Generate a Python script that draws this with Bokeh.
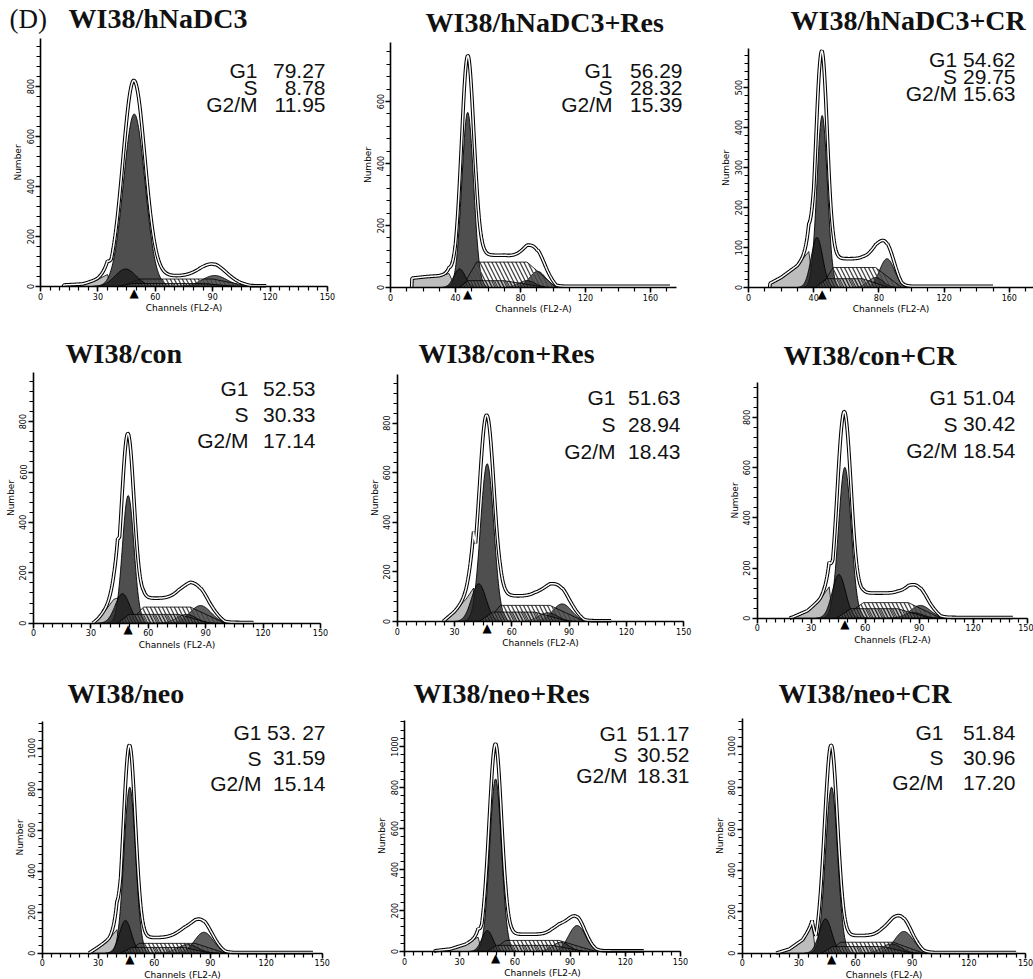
import numpy as np
from bokeh.plotting import figure
from bokeh.layouts import column, row
from bokeh.models import Range1d, SingleIntervalTicker, Label
from bokeh.embed import file_html
from bokeh.resources import INLINE

# ---------------- data ----------------
titles = ["WI38/hNaDC3", "WI38/hNaDC3+Res", "WI38/hNaDC3+CR",
          "WI38/con", "WI38/con+Res", "WI38/con+CR",
          "WI38/neo", "WI38/neo+Res", "WI38/neo+CR"]
phase_labels = ["G1", "S", "G2/M"]
g1_pct = ["79.27", "56.29", "54.62", "52.53", "51.63", "51.04", "53. 27", "51.17", "51.84"]
s_pct = ["8.78", "28.32", "29.75", "30.33", "28.94", "30.42", "31.59", "30.52", "30.96"]
g2m_pct = ["11.95", "15.39", "15.63", "17.14", "18.43", "18.54", "15.14", "18.31", "17.20"]

# model components (channel / count)
g1_mu = [49, 47.5, 45.2, 49.5, 47.1, 48.7, 46.9, 49.5, 47.3]
g1_h = [690, 565, 430, 507, 636, 601, 810, 842, 802]
g1_sd = [5.6, 3.6, 3.2, 3.0, 3.5, 3.5, 3.1, 3.2, 3.2]
env_peak = [824, 748, 590, 752, 830, 820, 1013, 1013, 1003]
ap_mu = [44.5, 42.5, 42, 46.5, 42.7, 45.4, 44.6, 45, 44.1]
ap_h = [70, 60, 125, 117, 152, 174, 160, 102, 166]
ap_sd = [5.5, 3.5, 3.5, 3.8, 3.8, 3.7, 3.2, 3.0, 3.3]
g2_mu = [91, 90.5, 85, 87.3, 86.4, 90.7, 86.6, 93.8, 85.6]
g2_h = [44, 52, 72, 70, 71, 51, 102, 127, 105]
g2_sd = [6.5, 5, 4.5, 5.5, 5, 5.5, 5, 4.6, 5]
ap2_mu = [86, 84, 78, 80, 79, 87, 78, 85, 79]
ap2_h = [10, 22, 25, 35, 35, 22, 42, 45, 45]
ap2_sd = [6, 5, 4.5, 5, 5, 5, 5.5, 4.5, 5]
s_x = [[42, 52, 90, 110], [44, 53, 84, 102], [44, 52, 78, 94], [50, 57.5, 82, 100],
       [47, 54, 80, 98], [47, 59, 84, 102], [45, 52, 82, 98], [47, 55, 84, 104], [45, 52, 80, 96]]
s_h = [30, 82, 50, 64, 65, 62, 48, 54, 53]
s2_x = [[40, 48, 84, 104], [42, 48, 70, 96], [41, 48, 70, 86], [44, 50, 76, 92],
        [43, 50, 72, 90], [44, 52, 78, 96], [42, 48, 76, 90], [45, 50, 80, 98], [42, 48, 74, 90]]
s2_h = [12, 22, 22, 35, 38, 38, 28, 30, 32]
debris_x = [[12, 12.1, 22, 30, 35, 37], [13, 13.1, 22, 30, 36, 40], [13, 13.1, 20, 30, 37, 40],
            [31, 34, 38, 42, 44, 45], [24, 30, 36, 40, 41], [18, 20, 28, 35, 40, 42],
            [25, 30, 36, 40, 42], [16, 17, 25, 33, 40, 42], [18, 25, 32, 37, 39]]
debris_y = [[0, 6, 10, 28, 48, 0], [0, 30, 35, 38, 45, 0], [0, 10, 25, 55, 90, 0],
            [0, 20, 55, 95, 100, 0], [0, 40, 90, 135, 0], [0, 5, 30, 75, 125, 0],
            [0, 30, 70, 115, 0], [0, 4, 12, 35, 70, 0], [0, 20, 65, 135, 0]]
tail_level = [3, 4, 3, 3, 3, 3, 3, 3, 3]
tail_end = [118, 172, 150, 115, 112, 142, 145, 130, 145]

# axes of each panel
x_tick_step = [30, 40, 40, 30, 30, 30, 30, 30, 30]
x_minor = [6, 4, 4, 6, 6, 6, 6, 6, 6]
x_axis_end = [150, 176, None, 150, 150, 150, 150, 150, 150]
y_tick_step = [200, 200, 100, 200, 200, 200, 200, 200, 200]
y_axis_top = [992, 790, 598, 996, 996, 940, 1130, 1127, 1133]

# ---------------- geometry (pixels of the page) ----------------
col_left = [0, 346, 692]
col_w = [346, 346, 341]
row_top = [0, 320, 652]
row_h = [320, 332, 327]
x0_abs = [40, 390, 748, 33, 396.7, 756.7, 41.7, 404, 741.7]
y0_abs = [286, 287, 287, 622.7, 621, 617.7, 952.7, 951, 952.7]
kx_all = [1.913, 1.625, 1.63, 1.913, 1.91, 1.8, 1.867, 1.84, 1.889]
ky_all = [0.25, 0.31, 0.40, 0.252, 0.248, 0.251, 0.205, 0.205, 0.207]
title_xy = [(68, 18), (425, 22), (790, 20), (65, 353), (418, 353), (783, 355),
            (67, 693), (413, 693), (778, 693)]
lab_right = [257, 612, None, 248, 615, 957, 261, 627, 943]
val_right = [325, 682, 1015, 315, 680, 1015, 325, 689, 1015]
row1_y = [70, 70, 59, 388, 397, 397, 732, 733, 732]
row_gap = [17, 17, 17, 26, 27, 26.5, 25.5, 21, 25]

TITLE_FONT = "Liberation Serif"
STAT_FONT = "Liberation Sans"
AX_FONT = "DejaVu Sans"


def gauss(xg, mu, h, sd):
    return h * np.exp(-0.5 * ((xg - mu) / sd) ** 2)


def make_panel(i):
    r, c = divmod(i, 3)
    W, H = col_w[c], row_h[r]
    kx, ky = kx_all[i], ky_all[i]
    x0 = x0_abs[i] - col_left[c]
    y0 = y0_abs[i] - row_top[r]
    x_end = x_axis_end[i] if x_axis_end[i] is not None else (W - x0) / kx
    p = figure(width=W, height=H,
               x_range=Range1d(-x0 / kx, (W - x0) / kx),
               y_range=Range1d(-(H - y0) / ky, y0 / ky),
               output_backend="svg", toolbar_location=None,
               min_border_left=0, min_border_right=0,
               min_border_top=0, min_border_bottom=0,
               background_fill_color="white", border_fill_color="white",
               outline_line_color=None)
    p.xgrid.visible = False
    p.ygrid.visible = False

    # axes drawn at channel 0 / count 0
    p.xaxis.fixed_location = 0
    p.yaxis.fixed_location = 0
    p.xaxis.ticker = SingleIntervalTicker(interval=x_tick_step[i], num_minor_ticks=x_minor[i])
    p.yaxis.ticker = SingleIntervalTicker(interval=y_tick_step[i], num_minor_ticks=5)
    p.xaxis.bounds = (0, x_end)
    p.yaxis.bounds = (0, y_axis_top[i])
    p.xaxis.axis_label = "Channels (FL2-A)"
    p.yaxis.axis_label = "Number"
    p.yaxis.major_label_orientation = "vertical"
    for ax in (p.xaxis[0], p.yaxis[0]):
        ax.axis_line_width = 1.6
        ax.axis_line_color = "black"
        ax.major_tick_line_width = 1.5
        ax.minor_tick_line_width = 1.2
        ax.major_tick_in = 0
        ax.minor_tick_in = 0
        ax.major_tick_out = 5
        ax.minor_tick_out = 4
        ax.major_label_text_font = AX_FONT
        ax.major_label_text_font_size = "8px"
        ax.major_label_text_color = "black"
        ax.axis_label_text_font = AX_FONT
        ax.axis_label_text_font_size = "9px"
        ax.axis_label_text_font_style = "normal"
        ax.axis_label_text_color = "black"
    p.xaxis.major_label_standoff = 1
    p.xaxis.axis_label_standoff = 0
    p.yaxis.major_label_standoff = 2
    p.yaxis.axis_label_standoff = 1

    xg = np.arange(0, x_end + 0.01, 0.25)
    g1 = gauss(xg, g1_mu[i], g1_h[i], g1_sd[i])
    ap = gauss(xg, ap_mu[i], ap_h[i], ap_sd[i])
    g2 = gauss(xg, g2_mu[i], g2_h[i], g2_sd[i])
    ap2 = gauss(xg, ap2_mu[i], ap2_h[i], ap2_sd[i])
    sx = s_x[i]
    s_comp = np.interp(xg, sx, [0, s_h[i], s_h[i], 0], left=0, right=0)
    s2x = s2_x[i]
    s2_comp = np.interp(xg, s2x, [0, s2_h[i], s2_h[i], 0], left=0, right=0)
    deb = np.interp(xg, debris_x[i], debris_y[i], left=0, right=0)

    def peak(y, color, alpha):
        m = y > 0.4
        p.varea(x=xg[m], y1=0, y2=y[m], fill_color=color, fill_alpha=alpha)
        p.line(xg[m], y[m], line_color="black", line_width=0.9)

    # debris
    p.patch(debris_x[i], debris_y[i], fill_color="#bdbdbd", line_color="black", line_width=0.8)
    # diploid peaks
    peak(g2, "#5e5e5e", 1.0)
    peak(g1, "#4f4f4f", 1.0)
    # S phase (hatch over the peaks)
    p.patch(sx, [0, s_h[i], s_h[i], 0], fill_color="white", fill_alpha=0.0,
            line_color="black", line_width=0.8,
            hatch_pattern="\\", hatch_color="#444444", hatch_scale=8, hatch_weight=1.3)
    # second population
    peak(ap, "#1c1c1c", 0.8)
    peak(ap2, "#1c1c1c", 0.5)
    p.patch(s2x, [0, s2_h[i], s2_h[i], 0], fill_color="#6e6e6e", fill_alpha=0.45,
            line_color="black", line_width=0.8,
            hatch_pattern="\\", hatch_color="#111111", hatch_scale=6, hatch_weight=1.0, hatch_alpha=0.8)

    # envelope (data + fit outlines)
    comps = deb + s_comp + s2_comp + g1 + ap + g2 + ap2
    at_mu = float(np.interp(g1_mu[i], xg, comps))
    resid = gauss(xg, g1_mu[i], max(env_peak[i] - at_mu, 0), g1_sd[i] * 1.3)
    tail = np.where((xg > g2_mu[i]) & (xg <= tail_end[i]), tail_level[i], 0)
    env = comps + resid + tail
    m = (xg >= debris_x[i][0]) & (xg <= tail_end[i])
    p.line(xg[m], env[m], line_color="black", line_width=3.6)
    p.line(xg[m], env[m], line_color="white", line_width=1.5)

    def dx(ax_abs):
        return (ax_abs - col_left[c] - x0) / kx

    def dy(ay_abs):
        return (y0 - (ay_abs - row_top[r])) / ky

    # G1 marker
    p.add_layout(Label(x=g1_mu[i], y=0, text="▲", text_font=AX_FONT, text_font_size="12px",
                       text_align="center", text_baseline="top", text_color="black", y_offset=1))
    # title
    tx, ty = title_xy[i]
    p.add_layout(Label(x=dx(tx), y=dy(ty), text=titles[i], text_font=TITLE_FONT,
                       text_font_size="28px", text_font_style="bold", text_align="left",
                       text_baseline="middle", text_color="#111111"))
    if i == 0:
        p.add_layout(Label(x=dx(9), y=dy(ty), text="(D)", text_font=TITLE_FONT,
                           text_font_size="27px", text_align="left",
                           text_baseline="middle", text_color="#111111"))
    # percentages
    vals = [g1_pct[i], s_pct[i], g2m_pct[i]]
    for j in range(3):
        yy = dy(row1_y[i] + j * row_gap[i])
        if lab_right[i] is None:
            p.add_layout(Label(x=dx(val_right[i]), y=yy, text=phase_labels[j] + " " + vals[j],
                               text_font=STAT_FONT, text_font_size="21px", text_align="right",
                               text_baseline="middle", text_color="#111111"))
        else:
            p.add_layout(Label(x=dx(lab_right[i]), y=yy, text=phase_labels[j],
                               text_font=STAT_FONT, text_font_size="21px", text_align="right",
                               text_baseline="middle", text_color="#111111"))
            p.add_layout(Label(x=dx(val_right[i]), y=yy, text=vals[j],
                               text_font=STAT_FONT, text_font_size="21px", text_align="right",
                               text_baseline="middle", text_color="#111111"))
    return p


panels = [make_panel(i) for i in range(9)]
layout = column(row(*panels[0:3], spacing=0), row(*panels[3:6], spacing=0),
                row(*panels[6:9], spacing=0), spacing=0)

open("out.html", "w").write(file_html(layout, INLINE))
